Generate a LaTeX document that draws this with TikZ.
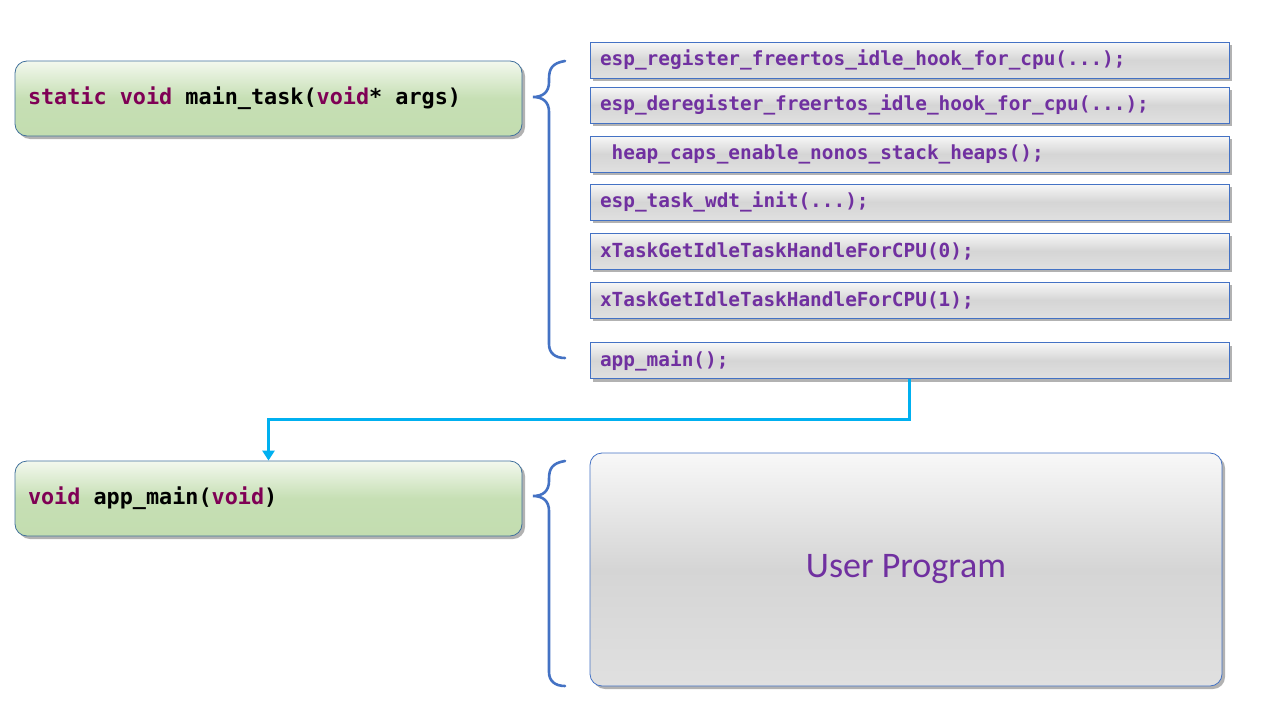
\documentclass[tikz,border=0pt]{standalone}
\usepackage{fontspec}
\setmainfont{Carlito}
\setmonofont{DejaVu Sans Mono}
\usetikzlibrary{arrows.meta,shadows}
\definecolor{boxblue}{HTML}{4472C4}
\definecolor{edgeblue}{HTML}{41719C}
\definecolor{kwred}{HTML}{7F0055}
\definecolor{fnpurple}{HTML}{7030A0}
\definecolor{flowcyan}{HTML}{00B0F0}
\definecolor{greentop}{HTML}{F3F8EE}
\definecolor{greenmid}{HTML}{C6DFB4}
\definecolor{greenbot}{HTML}{C3DDB0}
\definecolor{graytop}{HTML}{F8F8F8}
\definecolor{graymid}{HTML}{D5D5D5}
\definecolor{graybot}{HTML}{E0E0E0}
\newcommand{\codefont}[1]{\ttfamily\bfseries\fontsize{#1}{#1}\selectfont}
\newcommand{\codesp}{\hspace*{0.602em}}
\tikzset{>=latex}
\tikzstyle{softshadow}=[drop shadow={shadow xshift=3pt,shadow yshift=-3pt,opacity=0.3,fill=black}]
\tikzstyle{fnbox}=[rectangle,draw=edgeblue,line width=0.8pt,rounded corners=12pt,top color=greentop,bottom color=greenbot,middle color=greenmid,minimum height=75pt,text width=481pt,inner xsep=13pt,font=\codefont{21.8},softshadow]
\tikzstyle{callbox}=[rectangle,draw=boxblue,line width=0.8pt,top color=graytop,bottom color=graybot,middle color=graymid,minimum height=36pt,text width=619pt,inner xsep=10pt,text=fnpurple,font=\codefont{19.4},softshadow]
\tikzstyle{userbox}=[rectangle,draw=boxblue,line width=0.8pt,rounded corners=12pt,top color=graytop,bottom color=graybot,middle color=graymid,minimum width=632pt,minimum height=233pt,text=fnpurple,font=\fontsize{36}{43}\selectfont,softshadow]
\tikzstyle{brace}=[draw=boxblue,line width=2.6pt,line cap=round]
\tikzstyle{flow}=[draw=flowcyan,line width=3pt,-{Triangle[width=12pt,length=10pt]}]

\begin{document}
\begin{tikzpicture}[x=1pt,y=-1pt]
	\fill[white] (0,0) rectangle (1280,720);
	\useasboundingbox (0,0) rectangle (1280,720);

	\node[fnbox] (maintask) at (268.5,98.5) {\textcolor{kwred}{static\codesp void}\codesp main\_task(\textcolor{kwred}{void}*\codesp args)};
	\node[fnbox] (appfn) at (268.5,498.5) {\textcolor{kwred}{void}\codesp app\_main(\textcolor{kwred}{void})};

	\foreach \y/\t/\n in {60/{esp\_register\_freertos\_idle\_hook\_for\_cpu(...);}/1,
		105/{esp\_deregister\_freertos\_idle\_hook\_for\_cpu(...);}/2,
		154/{\codesp heap\_caps\_enable\_nonos\_stack\_heaps();}/3,
		202/{esp\_task\_wdt\_init(...);}/4,
		251/{xTaskGetIdleTaskHandleForCPU(0);}/5,
		300/{xTaskGetIdleTaskHandleForCPU(1);}/6} {
		\node[callbox] (call\n) at (909.5,\y) {\t};
	};
	\node[callbox] (appcall) at (909.5,360.5) {app\_main();};

	\node[userbox] (user) at (906,569.5) {User Program};

	% braces
	\foreach \top/\tip/\bot in {61/97/358, 461/496/686} {
		\draw[brace] (565,\top) .. controls (552,\top+2) and (549,\top+8) .. (549,\top+18)
			-- (549,\tip-15) .. controls (549,\tip-5) and (543,\tip) .. (533,\tip)
			.. controls (543,\tip) and (549,\tip+5) .. (549,\tip+15)
			-- (549,\bot-14) .. controls (549,\bot-5) and (555,\bot) .. (565,\bot);
	};

	\draw[flow] (appcall.south) -- ++(0,41) -| (appfn.north);
\end{tikzpicture}
\end{document}
